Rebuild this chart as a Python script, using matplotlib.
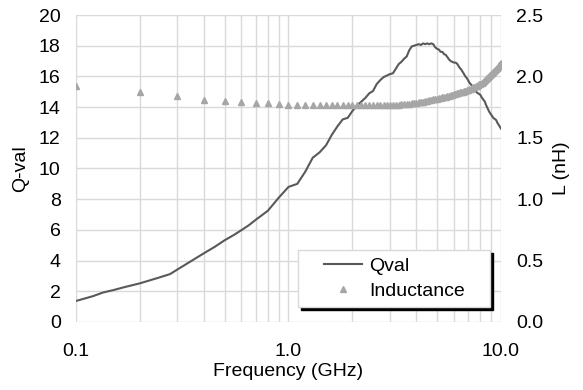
import matplotlib
matplotlib.use('Agg')
import matplotlib.pyplot as plt
from matplotlib.ticker import LogLocator, FormatStrFormatter, NullFormatter
from matplotlib.legend_handler import HandlerLine2D

plt.rcParams['font.family'] = ['Liberation Sans', 'DejaVu Sans']

# inductance sweep (GHz)
freq_ghz = [0.1, 0.2, 0.3, 0.4, 0.5, 0.6, 0.7, 0.8, 0.9, 1.0,
            1.1, 1.2, 1.3, 1.4, 1.5, 1.6, 1.7, 1.8, 1.9, 2.0,
            2.1, 2.2, 2.3, 2.4, 2.5, 2.6, 2.7, 2.8, 2.9, 3.0,
            3.1, 3.2, 3.3, 3.4, 3.5, 3.6, 3.7, 3.8, 3.9, 4.0,
            4.1, 4.2, 4.3, 4.4, 4.5, 4.6, 4.7, 4.8, 4.9, 5.0,
            5.1, 5.2, 5.3, 5.4, 5.5, 5.6, 5.7, 5.8, 5.9, 6.0,
            6.1, 6.2, 6.3, 6.4, 6.5, 6.6, 6.7, 6.8, 6.9, 7.0,
            7.1, 7.2, 7.3, 7.4, 7.5, 7.6, 7.7, 7.8, 7.9, 8.0,
            8.1, 8.2, 8.3, 8.4, 8.5, 8.6, 8.7, 8.8, 8.9, 9.0,
            9.1, 9.2, 9.3, 9.4, 9.5, 9.6, 9.7, 9.8, 9.9, 10.0]

inductance = [1.92, 1.875, 1.84, 1.81, 1.80, 1.79, 1.785, 1.78, 1.772, 1.77,
              1.768, 1.766, 1.765, 1.765, 1.765, 1.765, 1.765, 1.765, 1.765, 1.765,
              1.765, 1.765, 1.765, 1.765, 1.765, 1.765, 1.765, 1.765, 1.765, 1.765,
              1.767, 1.768, 1.77, 1.772, 1.775, 1.777, 1.779, 1.781, 1.783, 1.786,
              1.789, 1.792, 1.795, 1.798, 1.801, 1.805, 1.808, 1.812, 1.816, 1.82,
              1.823, 1.826, 1.83, 1.833, 1.836, 1.84, 1.843, 1.847, 1.851, 1.855,
              1.858, 1.862, 1.865, 1.869, 1.872, 1.876, 1.88, 1.884, 1.888, 1.892,
              1.896, 1.90, 1.905, 1.91, 1.915, 1.92, 1.925, 1.93, 1.935, 1.94,
              1.948, 1.955, 1.962, 1.97, 1.977, 1.985, 1.993, 2.0, 2.01, 2.02,
              2.028, 2.036, 2.044, 2.052, 2.06, 2.07, 2.08, 2.09, 2.1, 2.11]

# Q sweep (GHz), finer below 1 GHz
q_freq = [0.1, 0.12, 0.134, 0.15, 0.17, 0.2, 0.24, 0.277, 0.3, 0.34,
          0.4, 0.45, 0.5, 0.55, 0.6, 0.65, 0.7, 0.8, 0.9, 1.0,
          1.1, 1.2, 1.3, 1.4, 1.5, 1.6, 1.7, 1.8, 1.9, 2.0,
          2.1, 2.2, 2.3, 2.4, 2.5, 2.6, 2.7, 2.8, 2.9, 3.0,
          3.1, 3.2, 3.3, 3.4, 3.5, 3.6, 3.7, 3.8, 3.9, 4.0,
          4.1, 4.2, 4.3, 4.4, 4.5, 4.6, 4.7, 4.8, 4.9, 5.0,
          5.1, 5.2, 5.3, 5.4, 5.5, 5.6, 5.7, 5.8, 5.9, 6.0,
          6.1, 6.2, 6.3, 6.4, 6.5, 6.6, 6.7, 6.8, 6.9, 7.0,
          7.1, 7.2, 7.3, 7.4, 7.5, 7.6, 7.7, 7.8, 7.9, 8.0,
          8.1, 8.2, 8.3, 8.4, 8.5, 8.6, 8.7, 8.8, 8.9, 9.0,
          9.1, 9.2, 9.3, 9.4, 9.5, 9.6, 9.7, 9.8, 9.9, 10.0]

qval = [1.37, 1.68, 1.92, 2.08, 2.28, 2.52, 2.85, 3.12, 3.42, 3.88,
        4.48, 4.9, 5.32, 5.65, 5.98, 6.3, 6.65, 7.25, 8.1, 8.8,
        9.0, 9.8, 10.7, 11.05, 11.5, 12.2, 12.75, 13.2, 13.3, 13.75,
        14.1, 14.35, 14.6, 14.9, 15.05, 15.5, 15.75, 15.95, 16.05, 16.15,
        16.2, 16.5, 16.8, 16.95, 17.15, 17.3, 17.7, 17.95, 18.0, 18.05,
        18.1, 18.05, 18.15, 18.1, 18.15, 18.1, 18.15, 18.1, 17.9, 17.8,
        17.75, 17.6, 17.6, 17.45, 17.4, 17.25, 17.1, 17.0, 16.95, 16.9,
        16.9, 16.85, 16.7, 16.55, 16.45, 16.3, 16.15, 16.0, 15.9, 15.75,
        15.6, 15.5, 15.4, 15.25, 15.15, 15.05, 14.95, 14.9, 14.85, 14.8,
        14.65, 14.55, 14.45, 14.35, 14.15, 14.0, 13.85, 13.7, 13.6, 13.5,
        13.4, 13.3, 13.25, 13.2, 13.15, 13.0, 12.9, 12.8, 12.7, 12.6]

x_ticks = [0.1, 1.0, 10.0]
x_labels = ['0.1', '1.0', '10.0']
q_ticks = [0, 2, 4, 6, 8, 10, 12, 14, 16, 18, 20]
l_ticks = [0.0, 0.5, 1.0, 1.5, 2.0, 2.5]

FS = 14

fig = plt.figure(figsize=(5.83, 3.9), dpi=100)
ax = fig.add_axes([0.1304, 0.1744, 0.7289, 0.7871])
ax2 = ax.twinx()

q_line, = ax.plot(q_freq, qval, color='#595959', lw=1.5, label='Qval')
l_pts, = ax2.plot(freq_ghz, inductance, ls='none', marker='^', ms=5,
                  color='#a6a6a6', mec='#a6a6a6', label='Inductance')

ax.set_xscale('log')
ax.set_xlim(0.1, 10)
ax.set_ylim(0, 20)
ax2.set_ylim(0, 2.5)
ax.set_xticks(x_ticks)
ax.set_xticklabels(x_labels)
ax.xaxis.set_minor_locator(LogLocator(base=10, subs=[2, 3, 4, 5, 6, 7, 8, 9]))
ax.xaxis.set_minor_formatter(NullFormatter())
ax.set_yticks(q_ticks)
ax2.set_yticks(l_ticks)
ax2.yaxis.set_major_formatter(FormatStrFormatter('%.1f'))

ax.grid(True, which='both', axis='x', color='#d9d9d9', lw=1)
ax.grid(True, which='major', axis='y', color='#d9d9d9', lw=1)
ax.set_axisbelow(True)
for a in (ax, ax2):
    for s in a.spines.values():
        s.set_visible(False)

ax.tick_params(axis='x', which='both', length=0, labelsize=FS, pad=15)
ax.tick_params(axis='y', length=0, labelsize=FS, pad=11)
ax2.tick_params(axis='y', length=0, labelsize=FS, pad=11)

ax.set_xlabel('Frequency (GHz)', fontsize=FS, labelpad=2)
ax.set_ylabel('Q-val', fontsize=FS, labelpad=7)
ax2.set_ylabel('L (nH)', fontsize=FS, labelpad=7)

hm = {q_line: HandlerLine2D(xpad=1.0), l_pts: HandlerLine2D(xpad=1.0)}
leg = ax2.legend([q_line, l_pts], ['Qval', 'Inductance'], handler_map=hm,
                 loc='lower left', bbox_to_anchor=(0.522, 0.049, 0.452, 0.195),
                 mode='expand', fontsize=FS, handlelength=2.95, handletextpad=0.35,
                 borderpad=0.35, labelspacing=0.4, fancybox=False,
                 framealpha=1, edgecolor='#d9d9d9', borderaxespad=0,
                 shadow={'color': 'black', 'alpha': 1})
leg.get_frame().set_linewidth(1)

plt.savefig('out.png', dpi=100)
